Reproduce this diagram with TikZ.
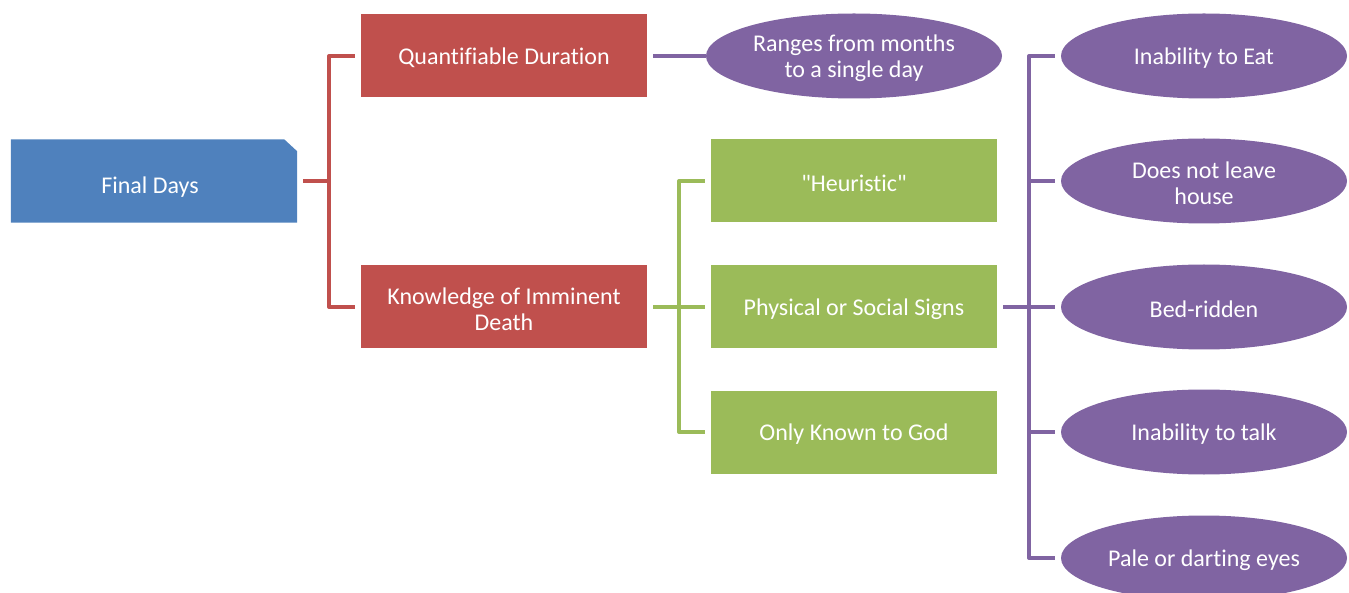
\documentclass[tikz,border=0pt]{standalone}
\usepackage{fontspec}
\setmainfont{Carlito}[Ligatures={NoCommon}]
\usetikzlibrary{shapes.geometric}
\definecolor{cblue}{HTML}{4F81BD}
\definecolor{cred}{HTML}{C0504D}
\definecolor{cgreen}{HTML}{9BBB59}
\definecolor{cpurple}{HTML}{8064A2}
\begin{document}
\begin{tikzpicture}[x=1pt,y=-1pt,
  every node/.style={font=\fontsize{24}{26}\selectfont, text=white, align=center, inner sep=0pt},
  box/.style={rectangle, minimum width=286pt, minimum height=83pt},
  oval/.style={ellipse, fill=cpurple, minimum width=286pt, minimum height=85pt},
  caption/.style={yshift=-2pt},
  link/.style={line width=4pt, line join=round}]
\useasboundingbox (0,0) rectangle (1349,593);

% shapes
\node[box] (fd) at (154,181) {};
\fill[cblue] (fd.south west) |- ([xshift=-13pt]fd.north east)
  -- ([yshift=-12pt]fd.north east) -- (fd.south east) -- cycle;

\node[box, fill=cred] (qd) at (504,56) {};
\node[box, fill=cred] (kd) at (504,307) {};

\node[oval, minimum width=296pt] (rg) at (854,56) {};

\node[box, fill=cgreen] (he) at (854,181) {};
\node[box, fill=cgreen] (ps) at (854,307) {};
\node[box, fill=cgreen] (gd) at (854,432) {};

\node[oval] (s1) at (1204,56) {};
\node[oval] (s2) at (1204,181) {};
\node[oval] (s3) at (1204,307) {};
\node[oval] (s4) at (1204,432) {};
\node[oval] (s5) at (1204,558) {};

% captions
\node[xshift=-4pt, yshift=-6pt] (fdt) at (fd.center) {Final Days};
\node[caption] (qdt) at (qd.center) {Quantifiable Duration};
\node[caption] (kdt) at (kd.center) {Knowledge of Imminent\\Death};
\node[caption] (rgt) at (rg.center) {Ranges from months\\to a single day};
\node[caption] (het) at (he.center) {\textquotedbl Heuristic\textquotedbl};
\node[caption] (pst) at (ps.center) {Physical or Social Signs};
\node[caption] (gdt) at (gd.center) {Only Known to God};
\node[caption] (s1t) at (s1.center) {Inability to Eat};
\node[caption] (s2t) at (s2.center) {Does not leave\\house};
\node[caption] (s3t) at (s3.center) {Bed-ridden};
\node[caption] (s4t) at (s4.center) {Inability to talk};
\node[caption] (s5t) at (s5.center) {Pale or darting eyes};

% junction columns
\coordinate (jr) at (329,0);
\coordinate (jg) at (679,0);
\coordinate (jp) at (1029,0);

% connectors
\draw[link, cred] ([xshift=6pt]fd.east) -- (fd.east -| jr);
\draw[link, cred] ([xshift=-6pt]qd.west) -| (jr |- kd.west) -- ([xshift=-6pt]kd.west);

\draw[link, cpurple] ([xshift=6pt]qd.east) -- (rg.west);

\draw[link, cgreen] ([xshift=6pt]kd.east) -- ([xshift=-6pt]ps.west);
\draw[link, cgreen] ([xshift=-6pt]he.west) -| (jg |- gd.west) -- ([xshift=-6pt]gd.west);

\draw[link, cpurple] ([xshift=6pt]ps.east) -- (ps.east -| jp);
\draw[link, cpurple] ([xshift=-6pt]s1.west) -| (jp |- s5.west) -- ([xshift=-6pt]s5.west);
\draw[link, cpurple] (jp |- s2.west) -- ([xshift=-6pt]s2.west);
\draw[link, cpurple] (jp |- s3.west) -- ([xshift=-6pt]s3.west);
\draw[link, cpurple] (jp |- s4.west) -- ([xshift=-6pt]s4.west);
\end{tikzpicture}
\end{document}
